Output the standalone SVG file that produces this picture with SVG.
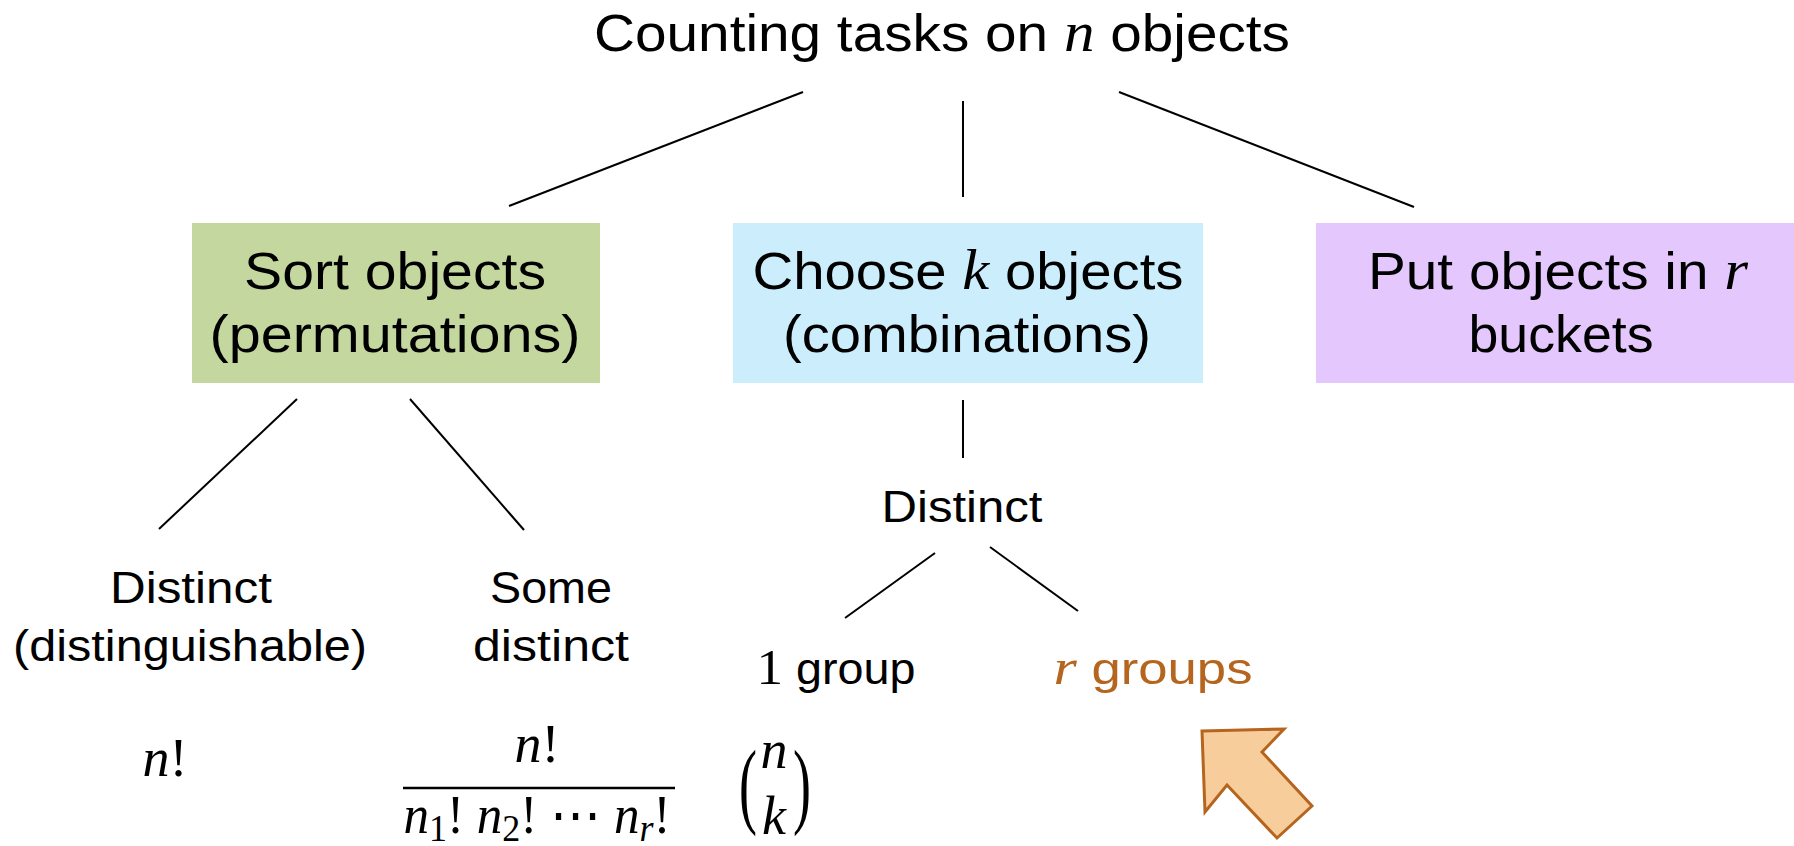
<svg xmlns="http://www.w3.org/2000/svg" width="1794" height="846" viewBox="0 0 1794 846">
  <style>
    .t { font-family: "Liberation Sans", Arial, sans-serif; fill: #000; text-anchor: middle; }
    .big { font-size: 52px; }
    .mid { font-size: 44px; }
    .m { font-family: "Liberation Serif", "Times New Roman", serif; font-style: italic; }
    .d { font-family: "Liberation Serif", "Times New Roman", serif; }
    .math { font-family: "Liberation Serif", "Times New Roman", serif; font-size: 54px; fill: #000; text-anchor: middle; }
    .conn line { stroke: #000; stroke-width: 2; }
    .accent { fill: #b5651d; }
  </style>
  <rect width="1794" height="846" fill="#fff"/>

  <!-- connectors -->
  <g id="connectors" class="conn">
    <line x1="803" y1="92" x2="509" y2="206"/>
    <line x1="963" y1="101" x2="963" y2="197"/>
    <line x1="1119" y1="92" x2="1414" y2="207"/>
    <line x1="297" y1="399" x2="159" y2="529"/>
    <line x1="410" y1="399" x2="524" y2="530"/>
    <line x1="963" y1="400" x2="963" y2="458"/>
    <line x1="935" y1="553" x2="845" y2="618"/>
    <line x1="990" y1="547" x2="1078" y2="611"/>
  </g>

  <g id="root">
    <text class="t big" x="942" y="51" textLength="696" lengthAdjust="spacingAndGlyphs">Counting tasks on <tspan class="m" font-size="56">n</tspan> objects</text>
  </g>

  <g id="sort">
    <rect x="192" y="223" width="408" height="160" fill="#c4d79e"/>
    <text class="t big" x="395" y="289" textLength="302" lengthAdjust="spacingAndGlyphs">Sort objects</text>
    <text class="t big" x="395" y="352" textLength="371" lengthAdjust="spacingAndGlyphs">(permutations)</text>
  </g>

  <g id="choose">
    <rect x="733" y="223" width="470" height="160" fill="#cceefc"/>
    <text class="t big" x="968" y="289" textLength="431" lengthAdjust="spacingAndGlyphs">Choose <tspan class="m" font-size="56">k</tspan> objects</text>
    <text class="t big" x="967" y="352" textLength="368" lengthAdjust="spacingAndGlyphs">(combinations)</text>
  </g>

  <g id="buckets">
    <rect x="1316" y="223" width="478" height="160" fill="#e3c7fd"/>
    <text class="t big" x="1558" y="289" textLength="380" lengthAdjust="spacingAndGlyphs">Put objects in <tspan class="m" font-size="56">r</tspan></text>
    <text class="t big" x="1561" y="352" textLength="185" lengthAdjust="spacingAndGlyphs">buckets</text>
  </g>

  <g id="perm-distinct">
    <text class="t mid" x="191" y="603" textLength="162" lengthAdjust="spacingAndGlyphs">Distinct</text>
    <text class="t mid" x="190" y="661" textLength="354" lengthAdjust="spacingAndGlyphs">(distinguishable)</text>
  </g>

  <g id="perm-some">
    <text class="t mid" x="551" y="603" textLength="122" lengthAdjust="spacingAndGlyphs">Some</text>
    <text class="t mid" x="551" y="661" textLength="156" lengthAdjust="spacingAndGlyphs">distinct</text>
  </g>

  <g id="comb-distinct">
    <text class="t mid" x="962" y="522" textLength="161" lengthAdjust="spacingAndGlyphs">Distinct</text>
  </g>

  <g id="one-group">
    <text class="t mid" x="836" y="684" textLength="159" lengthAdjust="spacingAndGlyphs"><tspan class="d" font-size="50">1</tspan> group</text>
  </g>

  <g id="r-groups">
    <text class="t mid accent" x="1153" y="684" textLength="199" lengthAdjust="spacingAndGlyphs"><tspan class="m" font-size="50">r</tspan> groups</text>
  </g>

  <!-- formulas -->
  <g id="f-perm">
    <text class="math" x="165" y="776"><tspan font-style="italic">n</tspan>!</text>
  </g>

  <g id="f-multiset">
    <text class="math" x="537" y="762"><tspan font-style="italic">n</tspan>!</text>
    <line x1="403" y1="788" x2="675" y2="788" stroke="#000" stroke-width="2.5"/>
    <text class="math" x="537" y="833" textLength="267" lengthAdjust="spacingAndGlyphs"><tspan font-style="italic">n</tspan><tspan font-size="38" dy="8">1</tspan><tspan dy="-8">! </tspan><tspan font-style="italic">n</tspan><tspan font-size="38" dy="8">2</tspan><tspan dy="-8">! ⋯ </tspan><tspan font-style="italic">n</tspan><tspan font-size="38" font-style="italic" dy="8">r</tspan><tspan dy="-8">!</tspan></text>
  </g>

  <g id="f-binom">
    <text class="math" transform="translate(748,816) scale(1,1.76)" font-size="58">(</text>
    <text class="math" transform="translate(802,816) scale(1,1.76)" font-size="58">)</text>
    <text class="math" x="774" y="768" font-style="italic">n</text>
    <text class="math" x="774" y="834" font-style="italic">k</text>
  </g>

  <g id="pointer">
    <polygon points="1202,731 1284,729 1262,752 1312,806 1277,838 1227,785 1205,812" fill="#f8cd9c" stroke="#b5651d" stroke-width="3" stroke-linejoin="miter"/>
  </g>
</svg>
